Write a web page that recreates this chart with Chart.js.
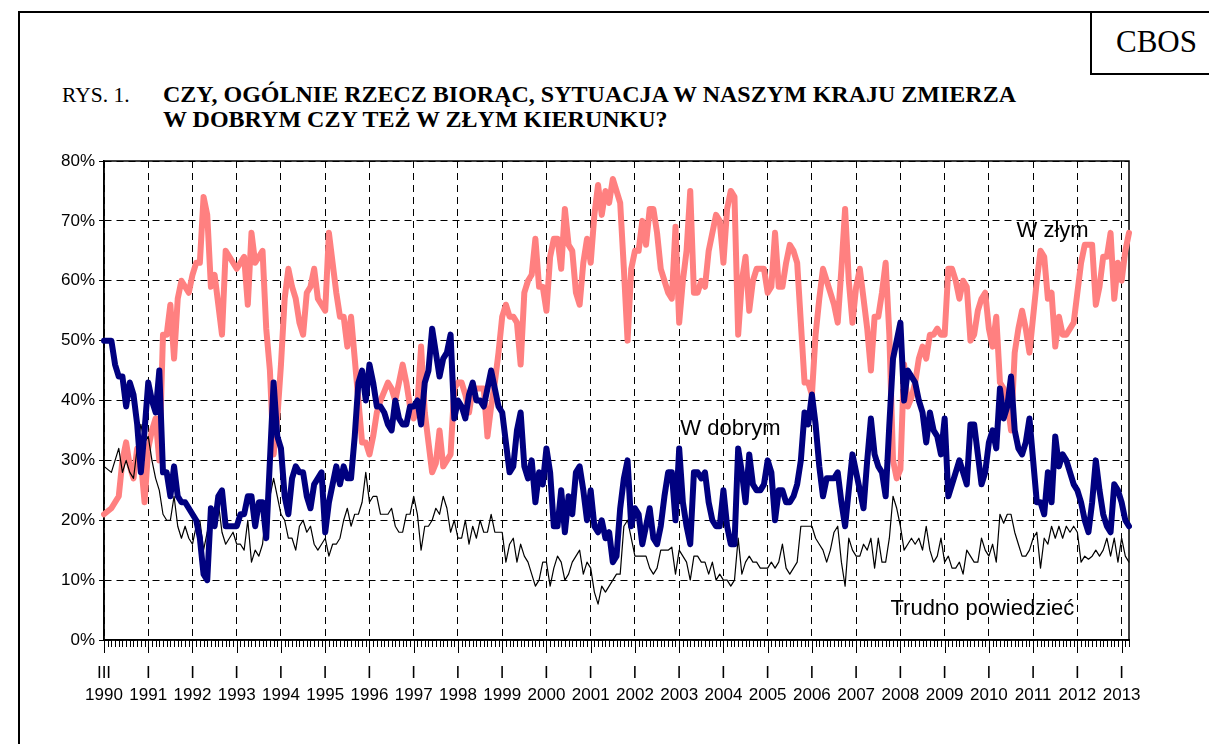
<!DOCTYPE html>
<html>
<head>
<meta charset="utf-8">
<script src="https://cdn.jsdelivr.net/npm/chart.js@4.4.0/dist/chart.umd.min.js"></script>
<style>
	body { margin: 0; width: 1209px; height: 744px; overflow: hidden; position: relative; background: #fff; font-family: "Liberation Serif", "Times New Roman", serif; color: #000; }
	#frame { position: absolute; left: 18px; top: 11px; width: 1300px; height: 800px; border-top: 2px solid #000; border-left: 2px solid #000; }
	#cbos { position: absolute; left: 1090px; top: 11px; width: 140px; height: 62px; border-left: 2px solid #000; border-bottom: 2px solid #000; font-size: 31px; line-height: 62px; text-indent: 24px; }
	.title { position: absolute; line-height: 25px; white-space: nowrap; }
	#rys { left: 62px; top: 83px; font-size: 21.5px; }
	#question { left: 163px; top: 82px; font-size: 24px; font-weight: bold; }
	#chart { position: absolute; left: 0; top: 0; }
</style>
</head>
<body>
<div id="frame"></div>
<div id="cbos">CBOS</div>
<div class="title" id="rys">RYS. 1.</div>
<div class="title" id="question">CZY, OGÓLNIE RZECZ BIORĄC, SYTUACJA W NASZYM KRAJU ZMIERZA<br>W DOBRYM CZY TEŻ W ZŁYM KIERUNKU?</div>
<canvas id="chart" width="1209" height="744"></canvas>
<script>
// one value per month, starting III 1990
const years = ['1990', '1991', '1992', '1993', '1994', '1995', '1996', '1997', '1998', '1999', '2000', '2001',
	'2002', '2003', '2004', '2005', '2006', '2007', '2008', '2009', '2010', '2011', '2012', '2013'];

const wDobrym = [
	50, 50, 50, 46, 44, 44, 39, 43, 41, 36, 28, 35,
	43, 40, 38, 45, 28, 28, 24, 29, 24, 23, 23, 22,
	21, 20, 17, 11, 10, 22, 19, 24, 25, 19, 19, 19,
	19, 21, 21, 24, 24, 19, 23, 23, 17, 30, 43, 34,
	32, 24, 21, 27, 29, 28, 28, 24, 22, 26, 27, 28,
	18, 23, 26, 29, 26, 29, 27, 27, 34, 43, 45, 40,
	46, 43, 39, 39, 38, 36, 35, 40, 37, 36, 36, 39,
	39, 40, 36, 43, 45, 52, 48, 44, 47, 48, 51, 37,
	40, 39, 37, 41, 43, 40, 40, 39, 42, 45, 42, 39,
	38, 33, 28, 29, 35, 38, 29, 27, 30, 23, 28, 26,
	32, 28, 19, 19, 25, 18, 24, 21, 28, 29, 25, 20,
	25, 19, 18, 20, 17, 18, 13, 14, 22, 27, 30, 19,
	22, 21, 16, 19, 22, 17, 16, 19, 24, 28, 28, 20,
	32, 23, 19, 16, 28, 28, 27, 28, 23, 20, 19, 19,
	25, 19, 16, 16, 32, 28, 23, 31, 26, 25, 25, 26,
	30, 28, 20, 25, 25, 23, 23, 24, 26, 30, 38, 36,
	41, 36, 29, 24, 27, 27, 27, 28, 23, 19, 25, 31,
	28, 25, 22, 30, 37, 31, 29, 28, 24, 36, 47, 50,
	53, 40, 45, 44, 43, 40, 38, 33, 38, 35, 34, 31,
	37, 24, 26, 28, 30, 28, 26, 36, 36, 31, 26, 28,
	33, 35, 32, 42, 37, 39, 44, 35, 32, 31, 33, 37,
	30, 23, 23, 21, 28, 23, 34, 29, 31, 30, 28, 26,
	25, 23, 20, 18, 23, 30, 25, 21, 19, 18, 26, 25,
	23, 20, 19
];

const wZlym = [
	21, 21.5, 22, 23, 24, 30, 33, 29, 27, 32, 30, 23,
	32, 35, 37, 30, 51, 51, 56, 47, 57, 60, 59, 58,
	61, 63, 63, 74, 71, 59, 61, 56, 51, 65, 64, 63,
	62, 63, 64, 56, 68, 63, 64, 65, 52, 45, 31, 37,
	46, 57, 62, 59, 57, 53, 51, 58, 59, 62, 57, 56,
	55, 68, 63, 58, 54, 54, 49, 54, 47, 40, 33, 33,
	31, 34, 38, 40, 41.5, 43, 42, 40, 43, 46, 43, 39,
	37, 39, 49, 38, 33, 28, 29.5, 35, 29, 30, 31, 42,
	43, 43, 41, 38, 42, 42, 42, 42, 34, 39, 43, 48,
	54, 56, 54, 54, 53, 46, 58, 60, 61, 67, 59, 59,
	55, 64, 67, 67, 62, 72, 66, 65, 58, 56, 63, 67,
	63, 71, 76, 71, 75, 73, 77, 75, 73, 62, 50, 62,
	65, 65, 70, 66, 72, 72, 68, 62, 60, 58, 57, 69,
	53, 60, 65, 75, 58, 58, 60, 59, 65, 68, 71, 70,
	63, 72, 75, 74, 51, 60, 64, 55, 60, 62, 62, 62,
	58, 59, 68, 59, 59, 63, 66, 65, 63, 53, 43, 43,
	41, 51, 57, 62, 60, 58, 56, 53, 62, 72, 60, 53,
	59, 62, 57, 52, 45, 54, 54, 58, 63, 51, 30, 27,
	28.5, 46, 39, 40.5, 43, 47, 49, 47, 51, 51, 52, 51,
	51, 62, 62, 60, 57, 60, 59, 50, 51, 55, 57, 58,
	52, 49, 54, 43, 42, 40, 35, 48, 52, 55, 52, 48,
	54, 60, 65, 64, 57, 58, 49, 54, 51, 51, 52, 53,
	58, 63, 66, 66, 66, 56, 59, 64, 64, 68, 57, 63,
	60, 65, 68
];

const trudno = [
	29, 28.5, 28, 30, 32, 28, 30, 28, 27, 32, 36, 33,
	34, 30, 27, 25, 21, 20, 20, 24, 19, 17, 19, 17,
	16, 19, 20, 15, 18, 22, 19, 23, 18, 16, 17, 18,
	16, 16, 15, 20, 13, 15, 14, 16, 22, 24, 27, 24,
	21, 20, 17, 17, 15, 19, 20, 18, 19, 16, 15, 16,
	17, 14, 16, 16, 17, 20, 22, 19, 21, 21, 23, 28,
	23, 24, 24, 21, 21, 21, 22, 19, 18, 18, 21, 21,
	24, 21, 15, 19, 19, 20, 22, 21, 24, 22, 18, 20,
	17, 17, 20, 16, 19, 17, 20, 18, 18, 21, 18, 18,
	18, 13, 16, 17, 13, 16, 14, 13, 11, 9, 10, 13,
	13, 9, 12, 14, 13, 10, 11, 13, 14, 15, 11, 13,
	12, 8, 6, 9, 8, 9, 10, 11, 11, 19, 20, 17,
	14, 14, 14, 14, 12, 11, 12, 15, 15, 15, 15.5, 11,
	15, 14, 13, 10, 14, 14, 13, 13, 11, 13, 10, 11,
	10, 10, 9, 10, 17, 11, 13, 14, 13, 13, 12, 12,
	12, 13, 12, 13, 16, 12, 11, 12, 13, 19, 19, 19,
	19, 17, 16, 15, 13, 15, 18, 19, 13, 9, 17, 15,
	14, 14, 16, 15, 17, 12, 17, 13, 13, 17, 24, 22,
	19, 15, 16, 17, 16, 17, 15, 19, 15, 13, 14, 17,
	13, 14, 12, 12, 13, 11, 15, 14, 13, 13, 17, 15,
	14, 16, 13, 21, 19.5, 21, 21, 18, 16, 14, 14, 15,
	17, 18, 12, 17, 16, 19, 17, 19, 17, 19, 18, 19,
	18, 13, 14, 13.5, 14, 15, 14, 15, 17, 14, 17, 13,
	17, 14, 13
];

// series names written inside the plot: [text, month index, value]
const notes = [
	['W złym', 247.5, 67.3],
	['W dobrym', 156.3, 34.2],
	['Trudno powiedzieć', 213.3, 4.2]
];

const labels = wDobrym.map(function(v, i) {
	if (i % 12 !== 0) {
		return '';
	}
	return [i === 0 ? 'III' : 'I', years[i / 12]];
});

Chart.defaults.font.family = '"Liberation Sans", Arial, sans-serif';
Chart.defaults.color = '#000';

// solid frame round the plot and the month ticks under the axis
const framePlugin = {
	id: 'frame',
	beforeDatasetsDraw: function(chart) {
		const ctx = chart.ctx;
		const area = chart.chartArea;
		const xs = chart.scales.x;
		ctx.save();
		ctx.strokeStyle = '#000';
		ctx.lineWidth = 1.5;
		ctx.strokeRect(area.left, area.top, area.right - area.left, area.bottom - area.top);
		ctx.lineWidth = 1;
		ctx.beginPath();
		for (let i = 0; i < labels.length; i++) {
			const x = Math.round(xs.getPixelForValue(i)) + 0.5;
			ctx.moveTo(x, area.bottom);
			ctx.lineTo(x, area.bottom + (i % 12 === 0 ? 13 : 7));
		}
		ctx.stroke();
		ctx.restore();
	}
};

const notesPlugin = {
	id: 'notes',
	afterDatasetsDraw: function(chart) {
		const ctx = chart.ctx;
		const xs = chart.scales.x;
		const ys = chart.scales.y;
		ctx.save();
		ctx.fillStyle = '#000';
		ctx.font = '22px "Liberation Sans", Arial, sans-serif';
		ctx.textBaseline = 'alphabetic';
		notes.forEach(function(n) {
			ctx.fillText(n[0], xs.getPixelForValue(n[1]), ys.getPixelForValue(n[2]));
		});
		ctx.restore();
	}
};

function line(data, color, width) {
	return {
		data: data,
		borderColor: color,
		borderWidth: width,
		borderJoinStyle: 'round',
		borderCapStyle: 'round',
		pointRadius: 0,
		tension: 0,
		fill: false
	};
}

new Chart(document.getElementById('chart').getContext('2d'), {
	type: 'line',
	data: {
		labels: labels,
		datasets: [
			line(wDobrym, '#000080', 6),
			line(trudno, '#000000', 1.2),
			line(wZlym, '#FF8080', 6)
		]
	},
	options: {
		responsive: false,
		animation: false,
		devicePixelRatio: 1,
		layout: {padding: {left: 40, top: 161, right: 80, bottom: 34}},
		plugins: {legend: {display: false}, tooltip: {enabled: false}},
		scales: {
			x: {
				type: 'category',
				offset: false,
				grid: {
					color: function(c) { return c.index % 12 === 0 ? '#000' : 'rgba(0,0,0,0)'; },
					lineWidth: 1,
					drawTicks: false
				},
				border: {display: true, color: '#000', width: 1.5, dash: [7, 5]},
				ticks: {
					autoSkip: false,
					maxRotation: 0,
					minRotation: 0,
					padding: 22,
					font: {size: 17, lineHeight: 1.3}
				},
				afterFit: function(s) { s.height = 70; }
			},
			y: {
				min: 0,
				max: 80,
				ticks: {
					stepSize: 10,
					padding: 4,
					font: {size: 17},
					callback: function(v) { return v + '%'; }
				},
				grid: {color: '#000', lineWidth: 1, tickLength: 5, tickColor: '#000'},
				border: {display: true, color: '#000', width: 1.5, dash: [7, 5]},
				afterFit: function(s) { s.width = 64; }
			}
		}
	},
	plugins: [framePlugin, notesPlugin]
});
</script>
</body>
</html>
